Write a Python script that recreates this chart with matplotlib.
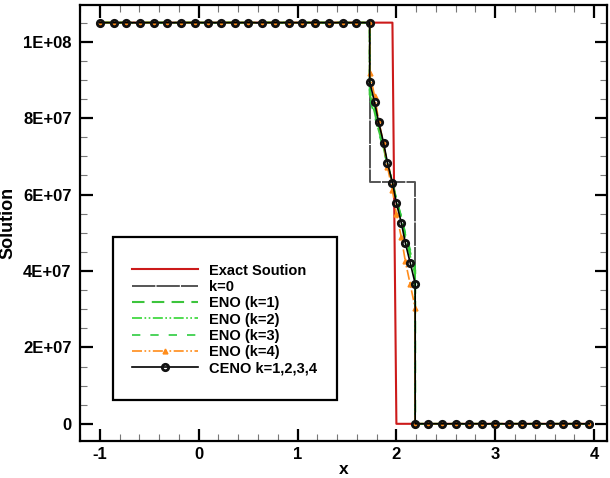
import matplotlib
matplotlib.use("Agg")
import matplotlib.pyplot as plt
from matplotlib.patches import Rectangle
from matplotlib.ticker import FuncFormatter, MultipleLocator

plt.rcParams["font.family"] = ["Liberation Sans", "DejaVu Sans"]
plt.rcParams["font.weight"] = "bold"
plt.rcParams["axes.unicode_minus"] = False

# grid points left of the shock cell, inside it, and right of it
x_left = [-1.00, -0.86, -0.73, -0.59, -0.45, -0.32, -0.18, -0.04, 0.09, 0.23,
          0.37, 0.50, 0.64, 0.77, 0.91, 1.05, 1.18, 1.32, 1.46, 1.59, 1.73]
x_mid = [1.73, 1.78, 1.82, 1.87, 1.91, 1.96, 2.00, 2.05, 2.09, 2.14, 2.19]
x_right = [2.19, 2.32, 2.46, 2.60, 2.73, 2.87, 3.00, 3.14, 3.27, 3.41, 3.55,
           3.68, 3.82, 3.95]
u_high = 1.05e8
u_low = 0.0

# exact solution
x_exact = [-1.00, 1.96, 2.00, 3.95]
u_exact = [1.05e8, 1.05e8, 0.0, 0.0]

# first order (k=0) step
x_k0 = [-1.00, 1.73, 1.73, 2.19, 2.19, 3.95]
u_k0 = [1.05e8, 1.05e8, 6.32e7, 6.32e7, 0.0, 0.0]

# values inside the shock cell
eno1_mid = [8.62e7, 8.16e7, 7.70e7, 7.24e7, 6.78e7, 6.32e7, 5.86e7, 5.40e7, 4.94e7, 4.48e7, 4.02e7]
eno2_mid = [8.75e7, 8.27e7, 7.78e7, 7.30e7, 6.81e7, 6.33e7, 5.84e7, 5.36e7, 4.87e7, 4.39e7, 3.90e7]
eno3_mid = [8.50e7, 8.06e7, 7.62e7, 7.19e7, 6.75e7, 6.31e7, 5.87e7, 5.43e7, 5.00e7, 4.56e7, 4.12e7]
eno4_mid = [9.18e7, 8.57e7, 7.95e7, 7.34e7, 6.72e7, 6.11e7, 5.49e7, 4.88e7, 4.26e7, 3.65e7, 3.03e7]
ceno_mid = [8.95e7, 8.41e7, 7.90e7, 7.36e7, 6.83e7, 6.31e7, 5.78e7, 5.26e7, 4.74e7, 4.21e7, 3.67e7]


def full_series(mid):
    xs = x_left + x_mid + x_right
    us = [u_high] * len(x_left) + mid + [u_low] * len(x_right)
    return xs, us


fig = plt.figure(figsize=(6.10, 4.78), dpi=100)
ax = fig.add_axes([0.1311, 0.0774, 0.864, 0.912])

ax.plot(x_exact, u_exact, color="#cc1a1a", lw=1.5, label="Exact Soution")
ax.plot(x_k0, u_k0, color="#555555", lw=1.4, dashes=(12, 0.6), label="k=0")

xs, us = full_series(eno1_mid)
ax.plot(xs, us, color="#3cc43c", lw=1.5, dashes=(6, 3.5), label="ENO (k=1)")
xs, us = full_series(eno2_mid)
ax.plot(xs, us, color="#33d633", lw=1.2, dashes=(6, 1.5, 1, 1.5, 1, 1.5), label="ENO (k=2)")
xs, us = full_series(eno3_mid)
ax.plot(xs, us, color="#2ecc40", lw=1.2, dashes=(5, 6), label="ENO (k=3)")
xs, us = full_series(eno4_mid)
ax.plot(xs, us, color="#ff8c1a", lw=1.2, dashes=(6, 1.5, 1, 1.5, 1, 1.5),
        marker="^", ms=3.5, mec="#ff8c1a", mfc="#ff8c1a", label="ENO (k=4)")
xs, us = full_series(ceno_mid)
ax.plot(xs, us, color="black", lw=1.2, marker="o", ms=4.6, mew=2.0,
        mfc="none", mec="#111111", label="CENO k=1,2,3,4")

ax.set_xlim(-1.2, 4.13)
ax.set_ylim(-4.5e6, 1.096e8)

ax.xaxis.set_major_locator(MultipleLocator(1))
ax.xaxis.set_minor_locator(MultipleLocator(0.2))
ax.yaxis.set_major_locator(MultipleLocator(2e7))
ax.yaxis.set_minor_locator(MultipleLocator(5e6))
ax.yaxis.set_major_formatter(FuncFormatter(lambda v, p: "0" if abs(v) < 1 else f"{v:.0E}"))

ax.tick_params(which="both", direction="in", top=True, right=True)
ax.tick_params(which="major", length=9, width=1.6, labelsize=12, pad=4)
ax.tick_params(which="minor", length=5, width=0.8, color="#777777")
ax.tick_params(axis="y", which="major", pad=6)
for s in ax.spines.values():
    s.set_linewidth(1.6)

ax.set_xlabel("x", fontsize=12.5, fontweight="bold", labelpad=0)
ax.set_ylabel("Solution", fontsize=13, fontweight="bold")
ax.yaxis.set_label_coords(-0.12, 0.5)

# legend frame drawn separately, entries placed inside it
ax.add_patch(Rectangle((0.0626, 0.094), 0.425, 0.374, transform=ax.transAxes,
                       fill=False, ec="black", lw=1.6, zorder=5))
ax.legend(loc="upper left", bbox_to_anchor=(0.0987, 0.407), frameon=False,
          borderpad=0, borderaxespad=0, handlelength=4.5, handletextpad=0.8,
          labelspacing=0.16, numpoints=1, prop={"size": 10.5, "weight": "bold"})

fig.savefig("out.png", dpi=100)
